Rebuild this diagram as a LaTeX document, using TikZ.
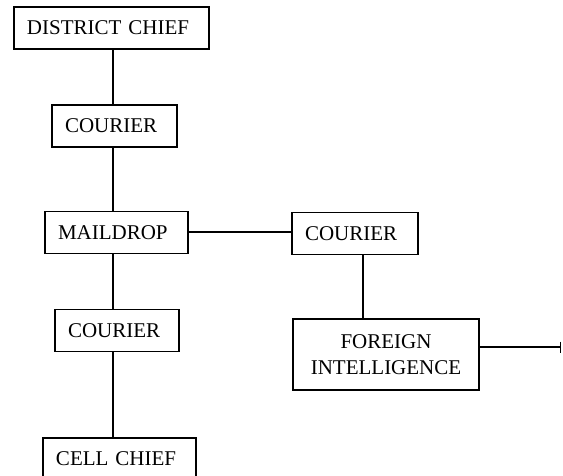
\documentclass[tikz,border=0pt]{standalone}
\usepackage{fontspec}
\setmainfont{Liberation Serif}
\usetikzlibrary{arrows.meta}

\begin{document}
\begin{tikzpicture}[x=1pt,y=-1pt]
				\tikzset{box/.style={draw,line width=1.3pt,inner xsep=13pt,inner ysep=0pt,align=left,minimum height=42pt,font=\fontsize{21}{26}\selectfont}}
				\tikzset{link/.style={line width=1.6pt}}
				\useasboundingbox (0,0) rectangle (563,476);
				\coordinate (spine) at (113,0);
				\coordinate (drop) at (363,0);
				\coordinate (tie) at (0,232);
				\coordinate (out) at (561,347);
				\node[box,text width=169pt] (dc) at (111.5,28) {DISTRICT CHIEF};
				\node[box,text width=99pt] (c1) at (114.5,126) {COURIER};
				\node[box,text width=117pt] (md) at (116.5,232.5) {MAILDROP};
				\node[box,text width=100pt] (c2) at (355,233.5) {COURIER};
				\node[box,text width=98pt] (c3) at (117,330.5) {COURIER};
				\node[box,text width=160pt,align=center,minimum height=71pt] (fi) at (386,354.5) {FOREIGN\\INTELLIGENCE};
				\node[box,text width=127pt] (cc) at (119.5,459) {CELL CHIEF};
				\draw[link] (dc.south -| spine) -- (c1.north -| spine);
				\draw[link] (c1.south -| spine) -- (md.north -| spine);
				\draw[link] (md.south -| spine) -- (c3.north -| spine);
				\draw[link] (c3.south -| spine) -- (cc.north -| spine);
				\draw[link] (md.east |- tie) -- (c2.west |- tie);
				\draw[link] (c2.south -| drop) -- (fi.north -| drop);
				\draw[link,-{Bar[width=11pt,line width=1.5pt]}] (fi.east |- out) -- (out);
\end{tikzpicture}
\end{document}
